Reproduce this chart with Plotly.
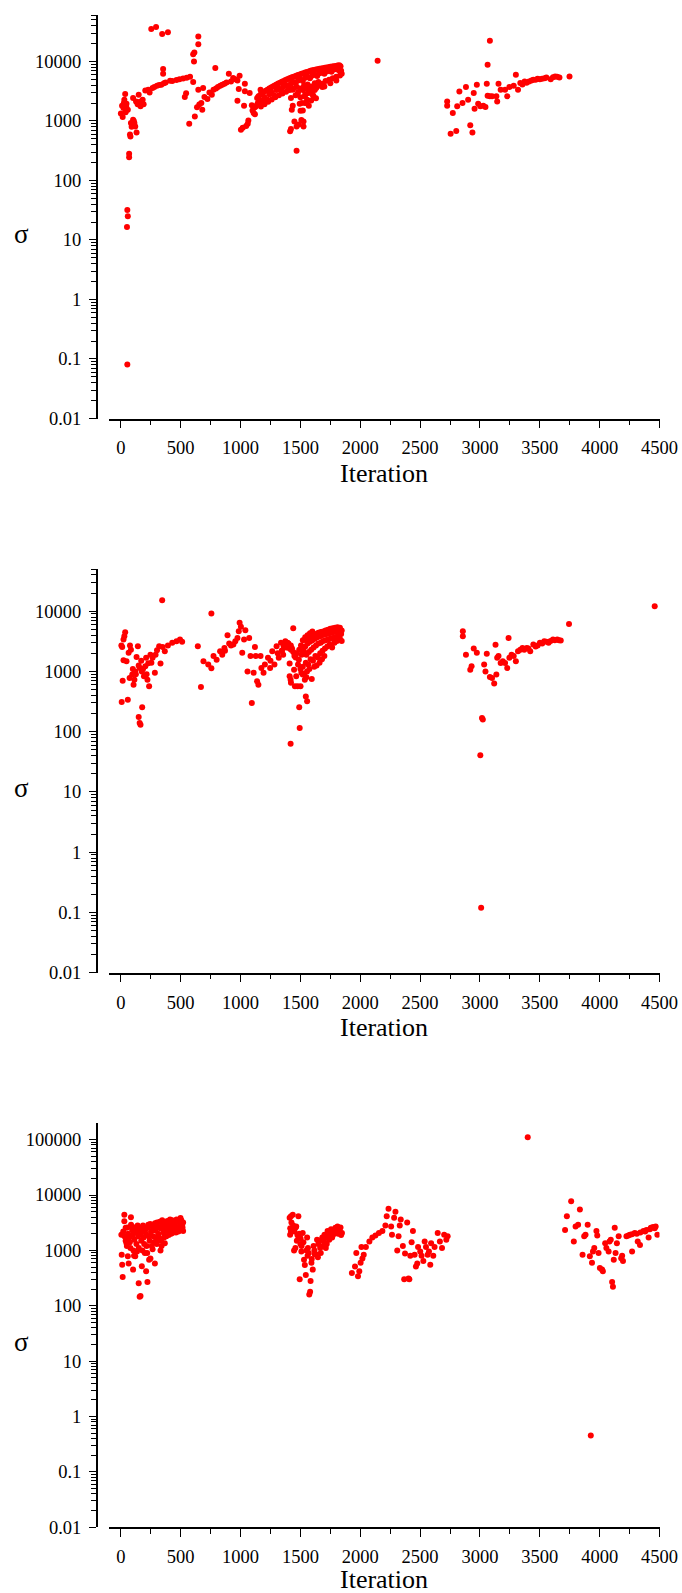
import plotly.graph_objects as go

# ---------------- data (iteration, sigma) ----------------
p1_early = [(0,1330),(15,1160),(22,1650),(29,2270),(36,2830),(44,1770),(47,1950),(58,1540),
            (54,32),(58,25),(51,16.5),(54,0.081),(69,280),(69,245),(76,590),(80,550),(84,920),
            (102,1050),(113,920),(120,810),(131,640),(102,2430),(127,2130),(149,2760),(164,1770),
            (182,2270),(204,3260),(229,3340),(265,3560),(302,3900),(338,4060),(374,4440),(411,4740),
            (465,4860),(520,5180),(578,5530),(604,4500),(254,35000),(294,37800),(345,28800),
            (393,31000),(353,7440),(353,6200),(534,2520),(545,2930),(571,900),(604,13200),
            (614,14100),(611,10000),(647,26300),(647,19500),(10,1800),(25,2000),(40,1400),(90,800),
            (108,1000),(140,1900),(160,2100),(190,1900),(240,3000),(280,3700),(320,4000),(360,4300),
            (430,4700),(490,5000),(550,5300)]
p1_mid = [(618,1190),(636,1700),(655,1880),(672,2000),(647,3340),(687,3560),(680,1540),(698,2520),
          (723,2340),(760,2760),(789,7730),(774,3340),(811,3710),(847,4060),(883,4440),(902,6200),
          (938,5250),(974,4800),(992,5750),(974,2180),(985,3440),(1003,710),(1018,765),(1036,4220),
          (1029,1800),(1036,3150),(1047,820),(1065,1020),(1076,2940),(1094,1830),(1109,1360),
          (1127,1760),(1138,2420),(1156,2130),(1167,3340),(740,3000),(795,3500),(830,3900),
          (865,4200),(920,4600),(955,5000),(1060,900),(1100,1500),(1120,1300),(1145,2000)]
p1_band = [(1150,2600),(1165,2750),(1180,2900),(1195,3050),(1210,3200),(1225,3350),(1240,3500),
           (1255,3650),(1270,3800),(1285,3950),(1300,4100),(1315,4250),(1330,4400),(1345,4550),
           (1360,4700),(1375,4850),(1390,5000),(1405,5150),(1420,5300),(1435,5450),(1450,5600),
           (1465,5750),(1480,5900),(1495,6050),(1510,6200),(1525,6350),(1540,6500),(1555,6650),
           (1570,6800),(1585,6950),(1600,7100),(1615,7200),(1630,7300),(1645,7400),(1660,7500),
           (1675,7600),(1690,7700),(1705,7800),(1720,7900),(1735,8000),(1750,8100),(1765,8200),
           (1780,8300),(1795,8400),(1810,8500),(1825,8600),(1835,8300),
           (1160,2000),(1180,2200),(1200,2500),(1220,2300),(1240,2800),(1260,3000),(1280,2700),
           (1300,3300),(1320,3500),(1340,3200),(1360,3800),(1380,4000),(1400,3700),(1420,4200),
           (1440,4500),(1460,4300),(1480,4800),(1500,5000),(1520,4700),(1540,5300),(1560,5500),
           (1580,5200),(1600,5800),(1620,6000),(1640,5700),(1660,6300),(1680,6500),(1700,6200),
           (1720,6800),(1740,7000),(1760,6700),(1780,7300),(1800,7500),(1820,7100),(1840,7000),
           (1120,1700),(1140,1900),(1170,1750),(1200,1900),(1230,2100),(1260,2300),(1290,2500),
           (1320,2700),(1350,2900),(1380,3100),(1410,3300),(1440,3500),(1470,3700),(1500,3500),
           (1530,3900),(1560,4100),(1590,3800),(1620,4300),(1650,4500),(1680,4200),(1710,4700),
           (1740,4900),(1770,5200),(1800,5500),(1830,5800),(1845,6200)]
p1_cloud = [(1414,670),(1421,730),(1428,1540),(1436,1800),(1421,2430),(1436,3340),(1450,980),
            (1468,810),(1468,316),(1486,870),(1494,1940),(1501,1490),(1512,2000),(1526,980),
            (1526,810),(1508,1040),(1537,2580),(1548,2000),(1556,2270),(1566,2940),(1581,3150),
            (1603,2760),(1632,3560),(1683,3710),(1460,2700),(1480,3000),(1500,2500),(1520,3300),
            (1540,2800),(1560,3400),(1580,3000),(1600,3600),(1620,3300),(1650,3900),(1700,3800),
            (1750,4300),(1800,4800),(1590,2200),(1610,2600),(1630,2400),(1570,1800),(1540,2000),
            (1520,1500)]
p1_late = [(2145,10260),(2726,2130),(2726,1800),(2755,610),(2773,1360),(2802,680),(2810,1770),
           (2828,3130),(2854,2000),(2883,3710),(2901,2270),(2919,850),(2937,640),(2948,2940),
           (2955,1600),(2974,4060),(2985,1940),(3003,1770),(3028,1800),(3046,1710),(3057,4220),
           (3064,8800),(3083,22200),(3064,2660),(3083,2600),(3101,2600),(3137,2600),(3144,2130),
           (3155,4220),(3173,3340),(3210,3340),(3228,2600),(3246,3710),(3282,3900),(3300,5970),
           (3318,3340),(3337,4320),(3373,4600),(3410,4600),(3446,4920),(3482,5110),(3519,5110),
           (3555,5390),(3591,5040),(3628,5600),(3664,5390),(3748,5600),(3355,4100),(3390,4400),
           (3430,4800),(3465,4900),(3500,5000),(3540,5200),(3610,5400),(3645,5500)]

p2_early = [(4,2690),(11,2550),(22,3380),(36,4480),(29,3840),(15,700),(7,310),(22,1530),(47,1480),
            (58,340),(65,2050),(76,2690),(84,2300),(73,780),(95,890),(106,600),(113,730),(120,1000),
            (131,1740),(142,2620),(149,1250),(157,1140),(149,175),(157,140),(164,130),(178,255),
            (175,1000),(193,830),(204,1220),(211,1680),(222,730),(236,565),(229,1370),(247,1900),
            (265,1680),(284,950),(302,2250),(320,2620),(331,1350),(349,2550),(345,15200),(367,2160),
            (393,2690),(429,3000),(465,3170),(494,3380),(512,3100),(100,1100),(125,900),(170,1500),
            (185,1100),(215,900),(255,1400),(290,1900)]
p2_mid = [(643,2620),(669,550),(690,1480),(730,1300),(756,9150),(756,1130),(774,1800),(800,1570),
          (829,2160),(847,1900),(865,2460),(891,4000),(920,2690),(956,3170),(974,3600),(992,6400),
          (1003,5500),(985,4650),(1014,2050),(1029,3380),(1040,4830),(1058,1000),(1072,3600),
          (1083,1800),(1094,300),(1109,950),(1120,2550),(1127,1800),(1138,690),(1149,600),
          (1167,1800),(1174,1140),(1192,950),(1203,1300),(1229,1680),(1247,1140),(1265,2160),
          (1283,1300),(1301,2620),(1319,1680),(1338,3000),(1356,1900),(1374,3170),(1392,3000),
          (1403,2460),(1421,2300),(1410,1350),(1410,830),(1418,730),(1421,650),(1418,63),
          (1440,5200),(1447,1070),(1454,565),(1465,830),(1476,565),(1487,1570),(1490,255),
          (1494,115),(1501,565),(1508,950),(1519,890),(1537,730),(1545,385),(1556,320),
          (870,2200),(905,2900),(940,2800),(1250,1500),(1310,2000),(1345,2200),(1380,2500)]
p2_band = [(1550,3300),(1570,3600),(1590,3900),(1610,4000),(1630,4200),(1650,4400),(1670,4500),
           (1690,4600),(1710,4800),(1730,4900),(1750,5100),(1770,5200),(1790,5300),(1810,5400),
           (1830,5300),(1845,4800),(1540,2600),(1560,2900),(1580,3100),(1600,3300),(1620,3500),
           (1640,3700),(1660,3800),(1680,4000),(1700,4100),(1720,4200),(1740,4300),(1760,4400),
           (1780,4500),(1800,4600),(1820,4400),(1840,4200),(1550,1900),(1570,2100),(1590,2300),
           (1610,2500),(1630,2700),(1650,2900),(1670,3000),(1690,3200),(1710,3300),(1730,3400),
           (1750,3500),(1770,3600),(1790,3700),(1810,3800),(1830,3500),(1845,3200),(1520,1200),
           (1545,1400),(1565,1300),(1585,1600),(1605,1500),(1625,1800),(1645,1700),(1665,2000),
           (1685,2200),(1705,2400),(1725,2600),(1745,2800),(1765,2500),(1785,3000),(1805,3200),
           (1555,1000),(1575,1100),(1595,750),(1615,1200),(1635,1250),(1660,1400),(1680,1600),
           (1700,1800),(1550,800),(1530,900),(1500,1100),(1480,1300),(1460,1700),(1470,2000),
           (1490,2300),(1510,1900),(1525,2200),(1505,2700),(1520,3300),(1540,3700),(1560,4000),
           (1580,4300),(1600,4600),(1440,2100),(1450,1800),(1430,2400),(1420,2700),(1400,2900),
           (1380,2800),(1360,2600),(1345,2200)]
p2_late = [(2857,4650),(2857,3840),(2883,1900),(2919,1070),(2930,1220),(2948,2400),(2974,2050),
           (3003,40.5),(3010,0.12),(3017,168),(3024,160),(3035,1300),(3046,1000),(3057,1970),
           (3083,810),(3101,780),(3119,630),(3130,2760),(3137,890),(3144,1680),(3155,1800),
           (3173,1380),(3191,1480),(3210,1380),(3228,1140),(3239,3600),(3246,1680),(3264,1900),
           (3282,1800),(3300,1480),(3318,2160),(3337,2300),(3355,2460),(3391,2460),(3420,2160),
           (3446,2800),(3482,2690),(3501,3000),(3537,3170),(3573,3000),(3610,3380),(3646,3380),
           (3675,3270),(3744,6150),(4460,12100),(3370,2300),(3405,2400),(3465,2600),(3520,2900),
           (3555,3100),(3590,3200),(3625,3300),(3660,3300)]

p3_early = [(4,1920),(7,830),(11,550),(15,330),(29,4400),(29,3370),(40,2550),(47,1350),(58,780),
            (65,580),(84,3960),(91,2700),(102,450),(113,1560),(120,780),(138,2340),(149,255),
            (157,145),(164,150),(175,515),(186,2250),(200,900),(211,420),(222,270),(229,2900),
            (236,680),(247,715),(265,1050),(273,2340),(284,580),(302,3200),(320,1560),(331,1000),
            (345,3500),(367,1350),(393,2250),(411,3620),(429,2070),(447,2900),(465,3620),(483,2250),
            (498,3850),(512,2800),(520,2250),
            (20,2200),(30,1800),(40,1500),(50,1200),(55,2600),(60,2000),(70,1700),(75,1400),(80,1100),
            (85,2900),(95,2300),(100,1900),(105,1000),(110,800),(115,2600),(125,2100),(130,1300),
            (135,950),(140,2800),(145,1800),(150,1100),(160,2500),(165,2000),(170,1500),(180,1000),
            (185,2800),(190,1700),(195,1300),(205,2400),(210,2000),(215,1200),(220,900),(225,2600),
            (232,1800),(240,1500),(245,3000),(252,2200),(258,1200),(262,2700),(270,1800),(278,1400),
            (285,3100),(290,2300),(295,1600),(300,1300),(308,2700),(312,2000),(318,1700),(325,3300),
            (330,2500),(335,1500),(340,1200),(350,2800),(355,2100),(360,1700),(370,3000),(375,2400),
            (380,1800),(388,3400),(395,2700),(400,1900),(408,3100),(415,2500),(420,2000),(428,3500),
            (435,2900),(440,2300),(450,3300),(455,2700),(460,2100),(470,3400),(475,2600),(480,2200),
            (490,3200),(495,2800),(500,2500),(505,3500),(510,3000),(515,2600),(520,3200)]
p3_mid = [(1410,3870),(1421,4130),(1436,4400),(1414,1920),(1421,2200),(1447,1000),(1458,1100),
          (1465,2700),(1483,4130),(1483,1800),(1494,300),(1501,1650),(1508,950),(1519,2070),
          (1530,675),(1537,545),(1545,360),(1556,1700),(1563,1100),(1574,160),(1581,180),(1585,280),
          (1592,600),(1603,450),(1610,1200),(1617,1000),(1628,850),(1639,1560),(1646,750),
          (1665,1100),(1683,1700),(1701,1920),(1712,1100),(1727,2250),(1741,1560),(1756,2400),
          (1774,1920),(1792,2550),(1810,2700),(1828,2250),(1847,2070),
          (1415,2500),(1425,3200),(1440,2800),(1450,2200),(1460,2600),(1470,1500),(1475,1900),
          (1490,2000),(1500,1300),(1510,1200),(1525,1400),(1550,1000),(1560,800),(1570,900),
          (1595,700),(1620,850),(1650,1300),(1660,1500),(1670,900),(1690,1200),(1700,1400),
          (1710,1700),(1720,1300),(1735,1800),(1750,2000),(1765,1700),(1780,2200),(1800,2400),
          (1815,2000),(1835,2600),(1840,1900)]
p3_third = [(1930,390),(1956,510),(1967,900),(1981,340),(1992,420),(2003,600),(2018,710),(2029,830),
            (2010,1150),(2047,1150),(2076,1450),(2101,1700),(2127,1850),(2156,2070),(2185,2250),
            (2210,2800),(2221,4130),(2236,5640),(2258,2700),(2265,1920),(2283,3870),(2294,4980),
            (2309,1000),(2320,1800),(2330,2800),(2338,3620),(2356,1200),(2367,300),(2374,880),
            (2392,3200),(2403,310),(2410,300),(2418,800),(2429,1400),(2440,2250),(2454,830),
            (2465,510),(2476,580),(2483,1150),(2501,950),(2512,800),(2527,640),(2538,1450),
            (2549,1150),(2563,830),(2574,950),(2585,550),(2592,1350),(2610,800),(2621,1150),
            (2647,2070),(2665,1450),(2683,1100),(2701,1920),(2719,1560),(2730,1800)]
p3_late = [(3399,110000),(3711,2340),(3726,4130),(3762,7700),(3784,1450),(3799,2700),(3820,2900),
           (3835,5450),(3857,830),(3871,1800),(3882,1920),(3900,2900),(3918,780),(3926,0.455),
           (3936,600),(3944,950),(3955,1100),(3973,2250),(3980,1850),(3991,900),(4002,480),
           (4020,450),(4027,420),(4046,1350),(4056,1100),(4075,950),(4082,1450),(4093,1560),
           (4104,270),(4111,220),(4118,680),(4126,2550),(4133,900),(4144,1350),(4159,1800),
           (4180,720),(4195,640),(4188,800),(4224,1800),(4253,1920),(4271,950),(4293,2070),
           (4318,1450),(4337,1250),(4366,2250),(4391,2340),(4409,1700),(4428,2550),(4446,2650),
           (4468,2700),(4482,1920),(4240,1850),(4270,1950),(4310,2000),(4340,2100),(4380,2200),
           (4420,2400),(4460,2500)]

panels = [p1_early + p1_mid + p1_band + p1_cloud + p1_late,
          p2_early + p2_mid + p2_band + p2_late,
          p3_early + p3_mid + p3_third + p3_late]

x_ticks = [0, 500, 1000, 1500, 2000, 2500, 3000, 3500, 4000, 4500]
y_ticks_a = [0.01, 0.1, 1, 10, 100, 1000, 10000]
y_ticks_b = [0.01, 0.1, 1, 10, 100, 1000, 10000, 100000]
y_top_log = [4.78, 4.70, 5.30]

# ---------------- layout ----------------
W, H = 682, 1593
FONT = "Liberation Serif"
x0, x1 = 108.9 / W, 659.5 / W
yaxis_pos = 96.8 / W
tops = [15, 569, 1123]
bottoms = [418.5, 972.7, 1527.3]
title_gap = [55, 55, 52]

fig = go.Figure()
layout = dict(width=W, height=H, margin=dict(l=0, r=0, t=0, b=0),
              paper_bgcolor="white", plot_bgcolor="white", showlegend=False,
              font=dict(family=FONT, color="black", size=18.5))

def fmt(v):
    return ("%g" % v) if v < 1 else str(int(v))

annotations = []
for i, pts in enumerate(panels):
    k = "" if i == 0 else str(i + 1)
    xs = [p[0] for p in pts]
    ys = [p[1] for p in pts]
    fig.add_trace(go.Scatter(x=xs, y=ys, mode="markers", xaxis="x" + k, yaxis="y" + k,
                             marker=dict(color="#ff0000", size=6, line=dict(width=0))))
    yt = y_ticks_b if i == 2 else y_ticks_a
    minor_vals = [m * 10 ** e for e in range(-2, 6) for m in range(2, 10)
                  if m * 10 ** e < 10 ** y_top_log[i]]
    dom = [1 - bottoms[i] / H, 1 - tops[i] / H]
    layout["xaxis" + k] = dict(domain=[x0, x1], anchor="y" + k, range=[-100, 4500],
                               tickvals=x_ticks, ticktext=[str(t) for t in x_ticks],
                               ticks="outside", ticklen=8, tickwidth=1.2, tickcolor="black",
                               showline=True, linecolor="black", linewidth=1.5,
                               showgrid=False, zeroline=False, ticklabelstandoff=4,
                               tickfont=dict(family=FONT, size=18.5),
                               minor=dict(tickvals=[t + 250 for t in x_ticks[:-1]],
                                          ticks="outside", ticklen=5, tickwidth=1.2,
                                          tickcolor="black", showgrid=False),
                               automargin=False)
    layout["yaxis" + k] = dict(domain=dom, anchor="free", position=yaxis_pos, type="log",
                               range=[-2, y_top_log[i]], tickvals=yt,
                               ticktext=[fmt(t) for t in yt],
                               ticks="outside", ticklen=7, tickwidth=1.2, tickcolor="black",
                               showline=True, linecolor="black", linewidth=1.5,
                               showgrid=False, zeroline=False, ticklabelstandoff=4,
                               tickfont=dict(family=FONT, size=18.5),
                               minor=dict(tickvals=minor_vals, ticks="outside", ticklen=5,
                                          tickwidth=1, tickcolor="black", showgrid=False),
                               automargin=False)
    annotations.append(dict(text="Iteration", xref="paper", yref="paper",
                            x=(x0 + x1) / 2, y=1 - (bottoms[i] + title_gap[i]) / H,
                            xanchor="center", yanchor="middle", showarrow=False,
                            font=dict(family=FONT, size=26, color="black")))
    annotations.append(dict(text="σ", xref="paper", yref="paper",
                            x=21.5 / W, y=1 - ((tops[i] + bottoms[i]) / 2 + 17) / H,
                            xanchor="center", yanchor="middle", showarrow=False,
                            font=dict(family=FONT, size=27, color="black")))
layout["annotations"] = annotations
fig.update_layout(**layout)
fig.write_html("out.html", config={"displayModeBar": False},
               post_script="document.body.style.margin='0';document.body.style.padding='0';")
